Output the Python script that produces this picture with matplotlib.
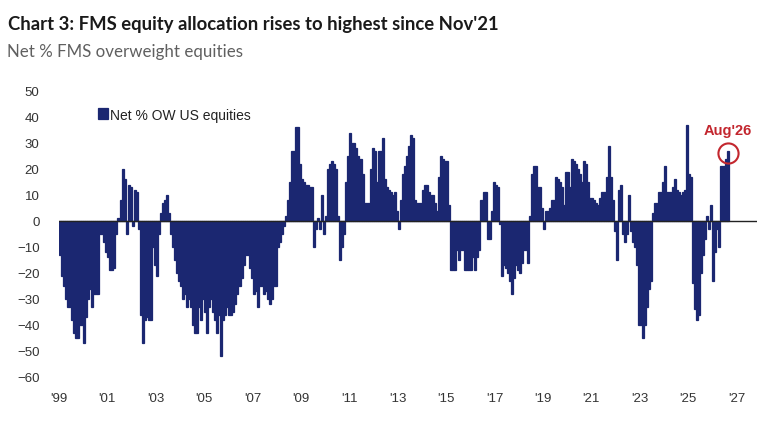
import matplotlib
matplotlib.use("Agg")
import matplotlib.pyplot as plt
import numpy as np

# Net % OW US equities, monthly, Jan 1999 -> Aug 2026
y1999 = [-13, -21, -25, -30, -33, -33, -38, -43, -45, -45, -40, -40]
y2000 = [-47, -37, -30, -26, -33, -28, -28, -28, -5, -5, -8, -12]
y2001 = [-14, -19, -19, -18, -5, 1, 8, 20, 16, -5, 14, 13]
y2002 = [-2, 12, 11, -3, -36, -47, -38, -37, -38, -38, -10, -17]
y2003 = [-21, -5, 3, 7, 8, 10, 3, -5, -10, -15, -20, -23]
y2004 = [-25, -30, -28, -33, -30, -33, -40, -43, -43, -33, -38, -30]
y2005 = [-35, -43, -33, -30, -35, -38, -43, -36, -52, -38, -36, -33]
y2006 = [-36, -36, -35, -32, -28, -25, -22, -17, -13, -13, -18, -22]
y2007 = [-28, -27, -33, -25, -25, -28, -27, -30, -32, -30, -25, -25]
y2008 = [-10, -8, -5, -2, 2, 8, 15, 27, 27, 36, 36, 22]
y2009 = [16, 15, 14, 14, 13, 13, -10, -3, 1, -3, 10, -5]
y2010 = [2, 20, 22, 23, 22, 20, 2, -15, -10, -5, 15, 25]
y2011 = [34, 30, 30, 28, 25, 24, 18, 7, 7, 7, 20, 28]
y2012 = [27, 15, 27, 27, 32, 16, 13, 12, 11, 10, 11, 4]
y2013 = [-3, 8, 18, 21, 25, 29, 33, 32, 8, 7, 7, 7]
y2014 = [12, 14, 14, 11, 10, 10, 7, 4, 17, 25, 24, 23]
y2015 = [23, 6, -19, -19, -19, -11, -15, -11, -11, -19, -19, -19]
y2016 = [-19, -14, -19, -14, -11, 8, 11, 11, -7, -7, 4, 15]
y2017 = [14, 13, -1, -21, -17, -18, -20, -23, -28, -22, -17, -19]
y2018 = [-20, -16, -11, -11, -16, 2, 18, 21, 21, 13, 13, 5]
y2019 = [-3, 4, 4, 5, 8, 8, 17, 16, 15, 13, 6, 19]
y2020 = [19, 13, 24, 23, 22, 20, 18, 15, 23, 22, 15, 9]
y2021 = [9, 8, 7, 6, 9, 11, 11, 17, 29, 17, 8, -4]
y2022 = [-15, 12, 14, -5, -8, -5, 10, -4, -8, -10, -17, -40]
y2023 = [-40, -45, -40, -33, -26, -23, 3, 7, 7, 11, 11, 15]
y2024 = [21, 11, 11, 11, 13, 16, 12, 11, 10, 11, 12, 37]
y2025 = [18, 17, -24, -34, -38, -36, -20, -13, -7, 2, -3, 6]
y2026 = [-23, -12, -3, -10, 21, 21, 24, 27]

values = (y1999 + y2000 + y2001 + y2002 + y2003 + y2004 + y2005 + y2006 + y2007
          + y2008 + y2009 + y2010 + y2011 + y2012 + y2013 + y2014 + y2015 + y2016
          + y2017 + y2018 + y2019 + y2020 + y2021 + y2022 + y2023 + y2024 + y2025 + y2026)
dates = 1999 + np.arange(len(values)) / 12.0

tick_years = list(range(1999, 2028, 2))
tick_labels = ["'%02d" % (y % 100) for y in tick_years]

navy = '#1b2771'
red = '#c3262e'

fig = plt.figure(figsize=(7.73, 4.31), dpi=100)
ax = fig.add_axes([59 / 773, 1 - 378 / 431, 698 / 773, 286 / 431])

ax.bar(dates, values, width=1 / 12, align='edge', color=navy, edgecolor=navy,
       linewidth=0.9, label='Net % OW US equities')
ax.axhline(0, color='#222222', lw=1.0)

ax.set_xlim(1999, 1999 + 698 / 24.2)
ax.set_ylim(-60, 50)
ax.set_yticks(range(-60, 51, 10))
ax.set_xticks(tick_years)
ax.set_xticklabels(tick_labels)
for s in ax.spines.values():
    s.set_visible(False)
ax.tick_params(length=0, labelsize=9.5, colors='#333333')
ax.tick_params(axis='y', pad=14)
ax.tick_params(axis='x', pad=11)
for lab in ax.get_xticklabels() + ax.get_yticklabels():
    lab.set_family('Liberation Sans')

leg = ax.legend(loc='upper left', bbox_to_anchor=(26 / 698, 1 - 4 / 286), frameon=False,
                handlelength=0.75, handleheight=0.9, handletextpad=0.15,
                prop={'family': 'Liberation Sans', 'size': 10})
for t in leg.get_texts():
    t.set_color('#222222')

# circle the latest reading
last_x = dates[-1] + 1 / 24
ax.plot([last_x], [values[-1] - 1], marker='o', ms=14.5, mfc='none', mec=red, mew=1.5)
ax.annotate("Aug'26", xy=(last_x, values[-1] - 1), xytext=(0, 17), textcoords='offset points',
            ha='center', va='center', color=red, fontsize=10.5, fontweight='bold',
            family='Liberation Sans')

fig.text(8 / 773, 1 - 30 / 431, "Chart 3: FMS equity allocation rises to highest since Nov'21",
         fontsize=13.3, fontweight='bold', family='Lato', color='#1a1a1a', va='baseline')
fig.text(7 / 773, 1 - 57 / 431, "Net % FMS overweight equities",
         fontsize=12.2, family='Lato', color='#606060', va='baseline')

fig.savefig('out.png', dpi=100)
